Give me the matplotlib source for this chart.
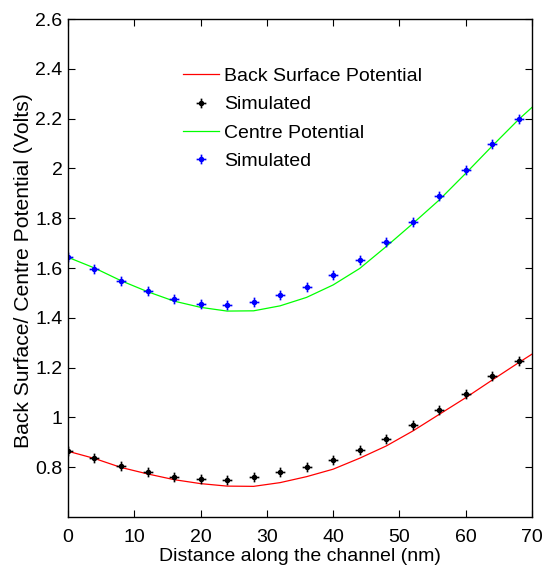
import numpy as np
import matplotlib
matplotlib.use('Agg')
import matplotlib.pyplot as plt
from matplotlib.path import Path

plt.rcParams['font.family'] = ['Liberation Sans', 'DejaVu Sans']

# model curves
x_line = [0, 4, 8, 12, 16, 20, 24, 28, 32, 36, 40, 44, 48, 52, 56, 60, 64, 68, 70]
back_line = [0.864, 0.835, 0.799, 0.773, 0.750, 0.734, 0.724, 0.723, 0.738, 0.762,
             0.792, 0.836, 0.885, 0.945, 1.012, 1.079, 1.150, 1.220, 1.254]
centre_line = [1.643, 1.600, 1.549, 1.505, 1.467, 1.442, 1.427, 1.428, 1.448, 1.482,
               1.532, 1.598, 1.686, 1.778, 1.873, 1.980, 2.090, 2.197, 2.245]

# simulated points
x_sim = [0, 4, 8, 12, 16, 20, 24, 28, 32, 36, 40, 44, 48, 52, 56, 60, 64, 68]
back_sim = [0.865, 0.835, 0.805, 0.780, 0.760, 0.752, 0.750, 0.762, 0.780, 0.800,
            0.830, 0.871, 0.914, 0.968, 1.028, 1.095, 1.165, 1.227]
centre_sim = [1.645, 1.595, 1.548, 1.507, 1.475, 1.455, 1.450, 1.462, 1.490, 1.525,
              1.570, 1.632, 1.706, 1.785, 1.888, 1.992, 2.100, 2.198]

# matlab-ish asterisk: long plus, short diagonals
d = 0.4
verts = [(-1, 0), (1, 0), (0, -1), (0, 1), (-d, -d), (d, d), (-d, d), (d, -d)]
codes = [Path.MOVETO, Path.LINETO] * 4
star = Path(verts, codes)

fig = plt.figure(figsize=(5.43, 5.66), dpi=100)
ax = fig.add_axes([0.1252, 0.0866, 0.8545, 0.8798])

fs = 14
ax.plot(x_line, back_line, color='#ff0000', lw=0.9, label='Back Surface Potential')
ax.plot(x_sim, back_sim, ls='none', marker=star, ms=7, mew=1.2, color='black',
        label='Simulated')
ax.plot(x_line, centre_line, color='#00ff00', lw=0.9, label='Centre Potential')
ax.plot(x_sim, centre_sim, ls='none', marker=star, ms=7, mew=1.2, color='#0000ff',
        label='Simulated')

ax.set_xlim(0, 70)
ax.set_ylim(0.6, 2.6)
ax.set_xticks(np.arange(0, 71, 10))
ax.set_yticks([0.8, 1, 1.2, 1.4, 1.6, 1.8, 2, 2.2, 2.4, 2.6])
ax.set_yticklabels(['0.8', '1', '1.2', '1.4', '1.6', '1.8', '2', '2.2', '2.4', '2.6'])
ax.tick_params(direction='in', top=True, right=True, length=5, width=0.8,
               labelsize=fs)
ax.tick_params(axis='x', pad=9)
ax.tick_params(axis='y', pad=4)
for s in ax.spines.values():
    s.set_linewidth(1.0)

ax.set_xlabel('Distance along the channel (nm)', fontsize=fs, labelpad=1)
ax.set_ylabel('Back Surface/ Centre Potential (Volts)', fontsize=15.2)
ax.yaxis.set_label_coords(-0.075, 0.494)

ax.legend(loc='upper left', bbox_to_anchor=(0.228, 0.922), frameon=False, fontsize=fs,
          handlelength=1.85, handletextpad=0.25, labelspacing=0.55, borderpad=0)

fig.savefig('out.png', dpi=100)
